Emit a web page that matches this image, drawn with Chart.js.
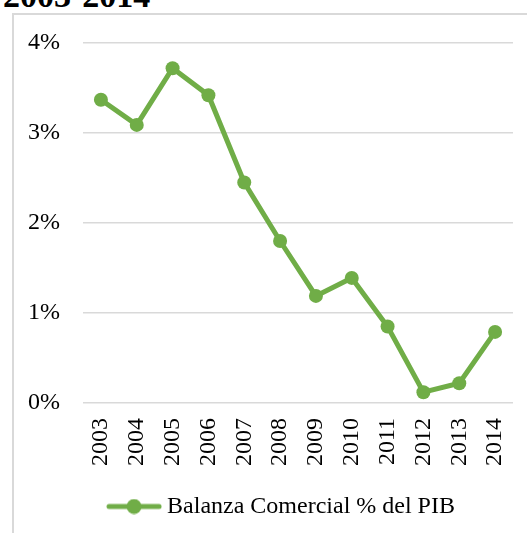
<!DOCTYPE html>
<html>
<head>
<meta charset="utf-8">
<script src="https://cdn.jsdelivr.net/npm/chart.js@4.4.0/dist/chart.umd.min.js"></script>
<style>
  html, body { margin: 0; padding: 0; background: #fff; overflow: hidden; width: 527px; height: 533px; }
  #titulo {
    position: absolute; left: 3px; top: -21px; margin: 0;
    font-family: "Liberation Serif", "Times New Roman", serif;
    font-weight: bold; font-size: 34px; line-height: 34px; color: #000; white-space: nowrap;
  }
  #marco {
    position: absolute; left: 12px; top: 13px; width: 560px; height: 540px;
    border-left: 2px solid #d9d9d9; border-top: 2px solid #d9d9d9;
  }
  #grafico { position: absolute; left: 0; top: 0; }
</style>
</head>
<body>
<div id="titulo">2003-2014</div>
<div id="marco">
  <canvas id="grafico" width="540" height="520"></canvas>
</div>
<script>
// datos
const anios = ['2003', '2004', '2005', '2006', '2007', '2008', '2009', '2010', '2011', '2012', '2013', '2014'];
const balanzaPIB = [3.37, 3.09, 3.72, 3.42, 2.45, 1.80, 1.19, 1.39, 0.85, 0.12, 0.22, 0.79];
const serieNombre = 'Balanza Comercial % del PIB';
const verde = '#70AD47';
const fuente = { family: '"Liberation Serif", "Times New Roman", serif', size: 24 };

// marcador de la leyenda: línea con círculo (estilo Excel)
const marcador = document.createElement('canvas');
marcador.width = 56;
marcador.height = 16;
const mctx = marcador.getContext('2d');
mctx.strokeStyle = verde;
mctx.lineWidth = 5;
mctx.lineCap = 'round';
mctx.beginPath();
mctx.moveTo(3, 8);
mctx.lineTo(53, 8);
mctx.stroke();
mctx.fillStyle = verde;
mctx.beginPath();
mctx.arc(28, 8, 7.5, 0, Math.PI * 2);
mctx.fill();

const ctx = document.getElementById('grafico').getContext('2d');
const myChart = new Chart(ctx, {
  type: 'line',
  data: {
    labels: anios,
    datasets: [{
      label: serieNombre,
      data: balanzaPIB,
      borderColor: verde,
      backgroundColor: verde,
      borderWidth: 5,
      pointRadius: 7,
      pointBackgroundColor: verde,
      pointBorderWidth: 0,
      tension: 0
    }]
  },
  options: {
    responsive: false,
    devicePixelRatio: 1,
    animation: false,
    layout: { padding: { left: 14, right: 14, top: 28, bottom: 6.5 } },
    scales: {
      x: {
        offset: true,
        grid: { display: false, drawTicks: false },
        border: { display: false },
        ticks: { font: fuente, color: '#000', minRotation: 90, maxRotation: 90, padding: 15 },
        afterFit: (scale) => { scale.height = 81.5; }
      },
      y: {
        min: 0,
        max: 4,
        grid: { color: '#d9d9d9', lineWidth: 1.5, drawTicks: false },
        border: { display: false },
        ticks: {
          stepSize: 1,
          font: fuente,
          color: '#000',
          padding: 23,
          callback: (v) => v + '%'
        },
        afterFit: (scale) => {
          scale.width = 55;
          // el padding de las etiquetas no debe empujar el área hacia abajo
          scale.paddingTop = 14;
          scale.paddingBottom = 14;
        }
      },
      // eje vacío a la derecha, solo para dejar el margen del área de trazado
      yDer: {
        position: 'right',
        grid: { display: false, drawTicks: false },
        border: { display: false },
        ticks: { display: false },
        afterFit: (scale) => { scale.width = 27; }
      }
    },
    plugins: {
      title: { display: false },
      tooltip: { enabled: false },
      legend: {
        position: 'bottom',
        labels: {
          font: fuente,
          color: '#000',
          usePointStyle: true,
          pointStyleWidth: 42,
          padding: 10,
          generateLabels: (chart) => [{
            text: serieNombre,
            pointStyle: marcador,
            fillStyle: verde,
            strokeStyle: verde,
            lineWidth: 0,
            hidden: false,
            datasetIndex: 0
          }]
        }
      }
    }
  }
});
</script>
</body>
</html>
